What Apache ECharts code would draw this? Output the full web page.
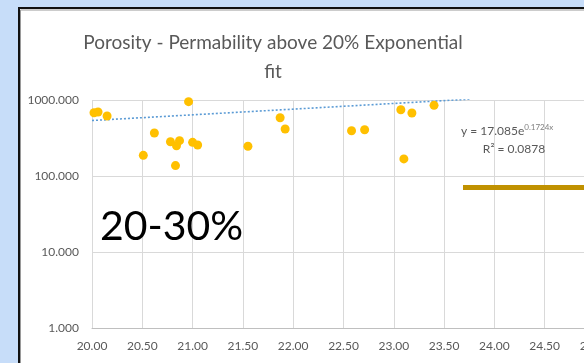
<!DOCTYPE html>
<html>
<head>
<meta charset="utf-8">
<title>Porosity - Permability above 20% Exponential fit</title>
<script src="https://cdn.jsdelivr.net/npm/echarts@6/dist/echarts.min.js"></script>
<style>
  html, body { margin: 0; padding: 0; background: #c7ddf9; }
  #chart { width: 584px; height: 363px; }
</style>
</head>
<body>
<div id="chart"></div>
<script>
// Porosity (%) samples above 20%
const porosity = [20.02, 20.06, 20.15, 20.51, 20.62, 20.78, 20.87, 20.84, 20.83, 20.96, 21.00, 21.05,
                  21.55, 21.87, 21.92, 22.58, 22.71, 23.07, 23.18, 23.10, 23.40];
// Permeability (mD) for each sample
const permeability = [680, 695, 615, 187, 368, 282, 292, 250, 137, 950, 277, 256,
                      246, 585, 415, 394, 406, 745, 674, 168, 851];

// Exponential trendline coefficients: y = a * e^(b x)
const fitA = 17.085;
const fitB = 0.1724;
const fitR2 = 0.0878;
const fitRange = [20.0, 23.76];

const xTicks = { min: 20, max: 25, step: 0.5 };
const yTicks = { min: 1, max: 1000 };

const points = porosity.map((p, i) => [p, permeability[i]]);
const trend = fitRange.map(x => [x, fitA * Math.exp(fitB * x)]);

const chart = echarts.init(document.getElementById('chart'));
const textFont = 'Lato, "Open Sans", sans-serif';

chart.setOption({
  animation: false,
  backgroundColor: '#c7ddf9',
  grid: { left: 92, right: -11, top: 100, bottom: 35, outerBoundsMode: 'none', containLabel: false },
  xAxis: {
    type: 'value',
    min: xTicks.min,
    max: xTicks.max,
    interval: xTicks.step,
    axisLine: { show: true, lineStyle: { color: '#bfbfbf', width: 1 } },
    axisTick: { show: false },
    axisLabel: {
      color: '#595959', fontSize: 12, fontFamily: textFont, margin: 12,
      formatter: v => v.toFixed(2)
    },
    splitLine: { show: true, lineStyle: { color: '#d9d9d9', width: 1 } }
  },
  yAxis: {
    type: 'log',
    logBase: 10,
    min: yTicks.min,
    max: yTicks.max,
    axisLine: { show: false },
    axisTick: { show: false },
    axisLabel: {
      color: '#595959', fontSize: 12, fontFamily: textFont, margin: 13,
      formatter: v => Number(v).toFixed(3)
    },
    splitLine: { show: true, lineStyle: { color: '#d9d9d9', width: 1 } }
  },
  series: [
    {
      type: 'line',
      data: trend,
      symbol: 'none',
      z: 2,
      lineStyle: { color: '#5b9bd5', width: 1.6, type: [2, 2] }
    },
    {
      type: 'scatter',
      data: points,
      symbolSize: 9,
      z: 3,
      itemStyle: { color: '#ffc000', opacity: 1 }
    }
  ],
  graphic: [
    // white chart panel with dark frame
    { type: 'rect', z: -10, silent: true,
      shape: { x: 19, y: 8, width: 600, height: 400 },
      style: { fill: '#ffffff' } },
    { type: 'line', z: -9, silent: true,
      shape: { x1: 19, y1: 8, x2: 600, y2: 8 },
      style: { stroke: '#111111', lineWidth: 2 } },
    { type: 'line', z: -9, silent: true,
      shape: { x1: 19, y1: 7, x2: 19, y2: 400 },
      style: { stroke: '#111111', lineWidth: 2 } },
    { type: 'line', z: -9, silent: true,
      shape: { x1: 20.5, y1: 10, x2: 600, y2: 10 },
      style: { stroke: '#9a9a9a', lineWidth: 1 } },
    { type: 'line', z: -9, silent: true,
      shape: { x1: 20.5, y1: 10, x2: 20.5, y2: 400 },
      style: { stroke: '#9a9a9a', lineWidth: 1 } },
    // title
    { type: 'text', z: 10, silent: true, x: 273, y: 43,
      style: { text: 'Porosity - Permability above 20% Exponential', fill: '#595959',
               font: '19px ' + textFont, textAlign: 'center', textVerticalAlign: 'middle' } },
    { type: 'text', z: 10, silent: true, x: 273, y: 72,
      style: { text: 'fit', fill: '#595959',
               font: '19px ' + textFont, textAlign: 'center', textVerticalAlign: 'middle' } },
    // trendline equation
    { type: 'text', z: 10, silent: true, x: 461, y: 131,
      style: {
        text: '{b|y = ' + fitA.toFixed(3) + 'e}{s|' + fitB + 'x}',
        textAlign: 'left', textVerticalAlign: 'middle',
        rich: {
          b: { fill: '#595959', fontSize: 12, fontFamily: textFont },
          s: { fill: '#7f7f7f', fontSize: 8, fontFamily: textFont, verticalAlign: 'bottom', padding: [0, 0, 7, 0] }
        }
      } },
    { type: 'text', z: 10, silent: true, x: 514, y: 149,
      style: { text: 'R\u00b2 = ' + fitR2, fill: '#595959', font: '12px ' + textFont,
               textAlign: 'center', textVerticalAlign: 'middle' } },
    // range annotation
    { type: 'text', z: 10, silent: true, x: 100, y: 227,
      style: { text: '20-30%', fill: '#000000', font: '41px ' + textFont,
               textAlign: 'left', textVerticalAlign: 'middle' } },
    // gold marker bar
    { type: 'rect', z: 10, silent: true,
      shape: { x: 463, y: 185, width: 130, height: 5 },
      style: { fill: '#c09100' } }
  ]
});
</script>
</body>
</html>
